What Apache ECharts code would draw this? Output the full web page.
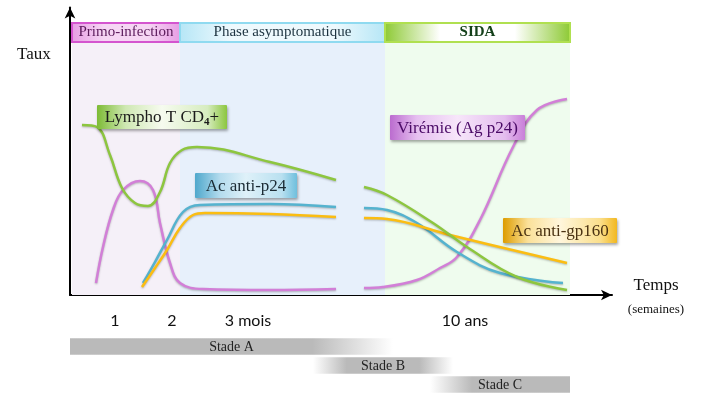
<!DOCTYPE html>
<html>
<head>
<meta charset="utf-8">
<script src="https://cdn.jsdelivr.net/npm/echarts@6/dist/echarts.min.js"></script>
<style>
  html, body { margin: 0; padding: 0; background: #fff; }
  #chart { width: 710px; height: 396px; }
</style>
</head>
<body>
<div id="chart"></div>
<script>
// x : temps (échelle schématique), y : taux (unités arbitraires)
// null = coupure de l'axe du temps
const lymphoCD4 = [[2.4,68],[5.4,67.2],[8,56],[10.4,42.8],[13,36.8],[15.6,35.6],[18,41.2],[20,52.8],[22.4,58],[25.4,59.2],[40,53.2],[53.2,46],
  [56,null],
  [58.8,43.2],[63.4,40],[72.6,28.8],[79.4,19.2],[89.4,7.2],[99.4,2]];
const viremie = [[5.2,4.8],[6.6,19.2],[8.6,34],[10.6,42],[14,45.6],[16.6,42],[18,28.8],[20,12.8],[22,4.8],[26.6,2.4],[40,2],[53.2,2.4],
  [56,null],
  [58.8,2.8],[62.6,3.2],[69.4,6],[74,10.8],[77.4,15.2],[82,30],[88.6,59.2],[93.4,74],[99.4,78.4]];
const acP24 = [[14.6,4.8],[17,13.2],[19.4,22],[22.6,33.2],[26,36],[40,36.4],[53.2,35.2],
  [56,null],
  [58.8,34.8],[63.4,34],[69.4,28.8],[77.4,17.2],[86,8.8],[98.6,4.8]];
const acGp160 = [[14.4,3.2],[17,10.8],[19.4,18],[22,26.8],[24.6,32],[27,32.8],[40,32.4],[53.2,31.2],
  [56,null],
  [58.8,30.8],[63.4,30.4],[76,24],[99.4,12.8]];

// phases
const phases = ['Primo-infection', 'Phase asymptomatique', 'SIDA'];
const phaseStart = [0.4, 22, 63];
const phaseEnd = [22, 63, 100];

// graduations de l'axe du temps
const tickPos = [9, 20.4, 32];
const tickLabels = ['1', '2', '3 mois', '10 ans'];
const tickLabelPos = [9, 20.4, 35.6, 79];

// stades
const stages = ['Stade A', 'Stade B', 'Stade C'];
const stageStart = [0, 48.6, 72];
const stageEnd = [64.6, 76.6, 100];

const SERIF = '"Liberation Serif", "DejaVu Serif", serif';
const grad = (stops) => new echarts.graphic.LinearGradient(0, 0, 1, 0, stops.map(s => ({offset: s[0], color: s[1]})));

const bandColors = ['#f5f0f8', '#e7f0fb', '#effcee'];
const headerStyles = [
  {fill: grad([[0,'#e79be4'],[0.3,'#f6d6f4'],[0.7,'#f6d6f4'],[1,'#e79be4']]), border: '#d455cf', text: '#5a1a5a'},
  {fill: grad([[0,'#b5e6f6'],[0.25,'#eef9fd'],[0.75,'#eef9fd'],[1,'#b5e6f6']]), border: '#8fdaf0', text: '#1d3340'},
  {fill: grad([[0,'#8cc932'],[0.3,'#ffffff'],[0.7,'#ffffff'],[1,'#8cc932']]), border: '#b0e050', text: '#14401a'}
];

const bands = phases.map((p, i) => [
  {xAxis: phaseStart[i], yAxis: 0, itemStyle: {color: bandColors[i]}},
  {xAxis: phaseEnd[i], yAxis: 101.2}
]);
const headers = phases.map((p, i) => [
  {name: p, xAxis: phaseStart[i], yAxis: 101.2,
    itemStyle: {color: headerStyles[i].fill, borderColor: headerStyles[i].border, borderWidth: 2},
    label: {color: headerStyles[i].text, fontWeight: i === 2 ? 'bold' : 'normal'}},
  {xAxis: phaseEnd[i], yAxis: 108.8}
]);

const chart = echarts.init(document.getElementById('chart'));

function lineSeries(name, data, color, extra) {
  return Object.assign({
    name: name,
    type: 'line',
    data: data,
    smooth: 0.4,
    symbol: 'none',
    connectNulls: false,
    lineStyle: {color: color, width: 2.5, shadowColor: 'rgba(0,0,0,0.25)', shadowBlur: 2, shadowOffsetY: 1},
    z: 3
  }, extra || {});
}

function serifText(size, color) {
  return {fontFamily: SERIF, fontSize: size, fill: color};
}

function labelBox(x, y, w, h, stops, text, color, rich) {
  return {
    type: 'group', x: x, y: y,
    children: [
      {type: 'rect', z: 100, shape: {x: 0, y: 0, width: w, height: h, r: 1},
        style: {fill: grad(stops), shadowColor: 'rgba(0,0,0,0.35)', shadowBlur: 3, shadowOffsetX: 1, shadowOffsetY: 2}},
      {type: 'text', z: 101, x: w / 2, y: h / 2 + 1,
        style: Object.assign({text: text, align: 'center', verticalAlign: 'middle', rich: rich}, serifText(17, color))}
    ]
  };
}

const option = {
  animation: false,
  backgroundColor: '#fff',
  grid: [
    {left: 70, right: 98, top: 7.5, bottom: 101},
    {left: 70, right: 98, top: 337, height: 57}
  ],
  xAxis: [
    {
      type: 'value', min: 0, max: 108.4, gridIndex: 0,
      axisLine: {lineStyle: {color: '#000', width: 2}, symbol: ['none', 'arrow'], symbolSize: [8, 11]},
      axisTick: {show: true, inside: true, length: 6, customValues: tickPos, lineStyle: {color: '#000', width: 2}},
      axisLabel: {
        customValues: tickLabelPos, margin: 18,
        formatter: v => tickLabels[tickLabelPos.indexOf(v)],
        fontFamily: 'Lato, "Open Sans", sans-serif', fontSize: 16, color: '#111'
      },
      splitLine: {show: false}
    },
    {type: 'value', min: 0, max: 108.4, gridIndex: 1, show: false}
  ],
  yAxis: [
    {
      type: 'value', min: 0, max: 115, gridIndex: 0,
      axisLine: {show: true, lineStyle: {color: '#000', width: 2}, symbol: ['none', 'arrow'], symbolSize: [8, 11]},
      axisTick: {show: false}, axisLabel: {show: false}, splitLine: {show: false}
    },
    {type: 'category', data: stages, inverse: true, gridIndex: 1, show: false}
  ],
  series: [
    lineSeries('Virémie (Ag p24)', viremie, '#d27fd7', {
      markArea: {
        silent: true, z: 1,
        label: {show: true, position: 'inside', fontFamily: SERIF, fontSize: 15},
        data: bands.concat(headers)
      }
    }),
    lineSeries('Ac anti-p24', acP24, '#55b3cf'),
    lineSeries('Ac anti-gp160', acGp160, '#fbbd12'),
    lineSeries('Lympho T CD4+', lymphoCD4, '#8dc63f'),
    {
      type: 'custom', xAxisIndex: 1, yAxisIndex: 1,
      data: stages.map((s, i) => [i, stageStart[i], stageEnd[i]]),
      encode: {x: [1, 2], y: 0},
      renderItem: function (params, api) {
        const i = api.value(0);
        const p0 = api.coord([api.value(1), i]);
        const p1 = api.coord([api.value(2), i]);
        const h = api.size([0, 1])[1] * 0.87;
        const g = '#bababa';
        const stops = [
          [[0, g], [0.75, g], [1, '#ffffff']],
          [[0, '#ffffff'], [0.24, g], [0.76, g], [1, '#ffffff']],
          [[0, '#ffffff'], [0.3, g], [1, g]]
        ][i];
        return {
          type: 'group',
          children: [
            {type: 'rect', shape: {x: p0[0], y: p0[1] - h / 2, width: p1[0] - p0[0], height: h}, style: {fill: grad(stops)}},
            {type: 'text', x: (p0[0] + p1[0]) / 2, y: p0[1] + 1,
              style: Object.assign({text: stages[i], align: 'center', verticalAlign: 'middle'}, serifText(14, '#222'))}
          ]
        };
      }
    }
  ],
  graphic: [
    {type: 'text', x: 17, y: 55, style: Object.assign({text: 'Taux', verticalAlign: 'middle'}, serifText(17, '#111'))},
    {type: 'text', x: 656, y: 286, style: Object.assign({text: 'Temps', align: 'center', verticalAlign: 'middle'}, serifText(17, '#111'))},
    {type: 'text', x: 656, y: 310, style: Object.assign({text: '(semaines)', align: 'center', verticalAlign: 'middle'}, serifText(13, '#111'))},
    labelBox(97, 105, 130, 24, [[0,'#7dbb35'],[0.22,'#cfe8b3'],[0.5,'#f6fbef'],[0.85,'#d6ecbf'],[1,'#8cc63f']],
      '{a|Lympho T CD}{s|4}{a|+}', '#1a1a1a',
      {a: serifText(17, '#1a1a1a'), s: {fontFamily: SERIF, fontSize: 11, fontWeight: 'bold', fill: '#1a1a1a', padding: [9, 0, 0, 0]}}),
    labelBox(195, 173, 102, 25, [[0,'#4fa8cc'],[0.25,'#b5dcee'],[0.5,'#dff1f9'],[0.85,'#b9e0f0'],[1,'#6fbfdd']],
      'Ac anti-p24', '#1a2a33'),
    labelBox(390, 115, 135, 25, [[0,'#bb6ccf'],[0.2,'#e6c0f0'],[0.5,'#f7e6fa'],[0.85,'#e4bdee'],[1,'#c97fd9']],
      'Virémie (Ag p24)', '#4a0a66'),
    labelBox(503, 218, 114, 25, [[0,'#dd9c00'],[0.22,'#fbe19a'],[0.5,'#fff6dc'],[0.85,'#fbdf8c'],[1,'#f2b820']],
      'Ac anti-gp160', '#4a3212')
  ]
};

chart.setOption(option);
</script>
</body>
</html>
